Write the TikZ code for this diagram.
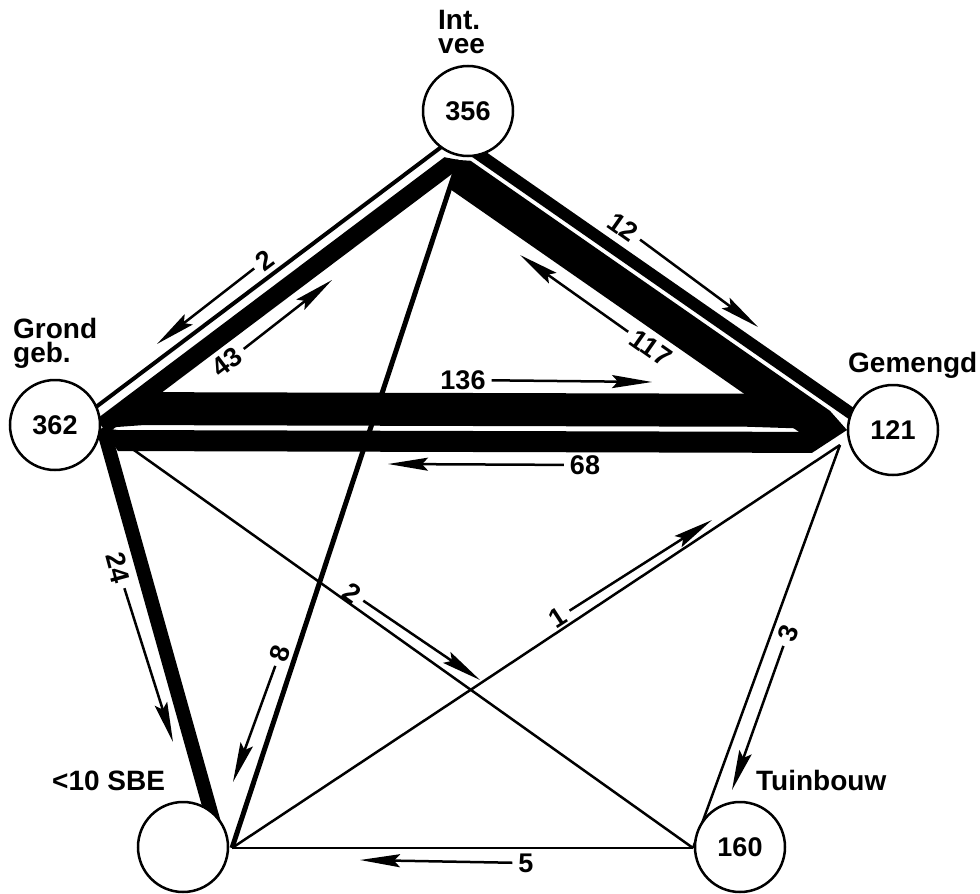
\documentclass[tikz,border=0pt]{standalone}
\usepackage{fontspec}
\setmainfont{Liberation Sans}
\usetikzlibrary{calc,arrows.meta}
\pgfdeclarelayer{back}
\pgfsetlayers{back,main}

\tikzset{
  site/.style={circle,draw,fill=white,line width=2.5pt,minimum size=90pt,inner sep=0pt,font=\fontsize{27}{27}\selectfont\bfseries},
  sitename/.style={inner sep=0pt,align=left,font=\fontsize{28}{24}\selectfont\bfseries},
  lab/.style={inner sep=3pt,font=\fontsize{27}{27}\selectfont\bfseries},
  arr/.style={-{Stealth[length=40pt,width=13pt,inset=6pt]},line width=2.5pt,shorten <=3pt},
  % tapered band: edge offsets #1,#2; taper length at start #3, at end #4
  band/.style n args={4}{to path={(\tikztostart)
    -- ($(\tikztostart)!#3!(\tikztotarget)!#1!-90:(\tikztotarget)$)
    -- ($(\tikztotarget)!#4!(\tikztostart)!#1!90:(\tikztostart)$)
    -- (\tikztotarget)
    -- ($(\tikztotarget)!#4!(\tikztostart)!#2!90:(\tikztostart)$)
    -- ($(\tikztostart)!#3!(\tikztotarget)!#2!-90:(\tikztotarget)$) -- cycle}},
  % straight line parallel to start--target, offset #1
  pair/.style={to path={($(\tikztostart)!#1!-90:(\tikztotarget)$) -- ($(\tikztotarget)!#1!90:(\tikztostart)$)}},
}

\begin{document}
\begin{tikzpicture}[x=1pt,y=1pt,yscale=-1,xscale=1]
\useasboundingbox (0,0) rectangle (980,894);

%Shape: Circle
\node[site] (vee) at (468,111) {356};
%Shape: Circle
\node[site] (grond) at (55,425) {362};
%Shape: Circle
\node[site] (gem) at (893,430) {121};
%Shape: Circle
\node[site] (sbe) at (183,847) {};
%Shape: Circle
\node[site] (tuin) at (740,847) {160};

% ports where the lines meet the circles
\coordinate (Ib) at ($(vee)+(-9,49)$);
\coordinate (Ge) at ($(grond)+(48,3)$);
\coordinate (Mw) at ($(gem)+(-46,0)$);
\coordinate (Msw) at ($(gem)+(-53,15)$);
\coordinate (Se) at ($(sbe)+(49,1)$);
\coordinate (Sx) at ($(sbe)+(38,1)$);
\coordinate (Tw) at ($(tuin)+(-47,1)$);

\begin{pgfonlayer}{back}
%Straight Lines
\fill (Ib) to[band={-11pt}{7pt}{10pt}{0pt}] (Ge);
\draw[line width=4pt] (Ib) to[pair=-21pt] (Ge);
%Straight Lines
\fill (Ib) to[band={-29pt}{6pt}{10pt}{25pt}] (Mw);
\draw[line width=12pt] (Ib) to[pair=16pt] (Mw);
%Straight Lines
\fill (Ge) to[band={3pt}{36pt}{40pt}{100pt}] (Mw);
\fill (Ge) to[band={-23pt}{-2pt}{15pt}{35pt}] (Mw);
%Straight Lines
\draw[line width=14pt] (Ge) -- (Sx);
\draw[line width=5pt] (Ib) -- (Se);
%Straight Lines
\draw[line width=2.5pt] (Ge) -- (Tw);
\draw[line width=2.5pt] (Se) -- (Msw);
\draw[line width=2.5pt] (Msw) -- (Tw);
\draw[line width=2.5pt] (Tw) -- (Se);
\end{pgfonlayer}

% Text Node
\node[sitename,anchor=north west] (tVee) at (438,10) {Int.\\vee};
% Text Node
\node[sitename,anchor=north west] (tGrond) at (13,318) {Grond\\geb.};
% Text Node
\node[sitename,anchor=base west] (tGem) at (848,372) {Gemengd};
% Text Node
\node[sitename,anchor=base west] (tSbe) at (52,790) {<10 SBE};
% Text Node
\node[sitename,anchor=base west] (tTuin) at (756,790) {Tuinbouw};

% Text Node
\node[lab,rotate=37] (n2a) at (265,260) {2};
\node[lab,rotate=37] (n43) at (227,362) {43};
\node[lab,rotate=-35] (n12) at (623,227) {12};
\node[lab,rotate=-35] (n117) at (651,348) {117};
\node[lab] (n136) at (463,380) {136};
\node[lab] (n68) at (585,465) {68};
\node[lab,rotate=-75] (n24) at (118,568) {24};
\node[lab,rotate=72] (n8) at (280,653) {8};
\node[lab,rotate=-35] (n2b) at (352,593) {2};
\node[lab,rotate=33] (n1) at (558,618) {1};
\node[lab,rotate=70] (n3) at (788,633) {3};
\node[lab] (n5) at (526,863) {5};

% arrow tips
\coordinate (t2a) at (157,344);
\coordinate (t43) at (332,280);
\coordinate (t12) at (758,327);
\coordinate (t117) at (520,255);
\coordinate (t136) at (652,382);
\coordinate (t68) at (388,464);
\coordinate (t24) at (173,742);
\coordinate (t8) at (233,782);
\coordinate (t2b) at (480,680);
\coordinate (t1) at (712,520);
\coordinate (t3) at (732,790);
\coordinate (t5) at (360,860);

%Straight Lines
\draw[arr] (n2a) -- (t2a);
\draw[arr] (n43) -- (t43);
\draw[arr] (n12) -- (t12);
\draw[arr] (n117) -- (t117);
\draw[arr] (n136) -- (t136);
\draw[arr] (n68) -- (t68);
\draw[arr] (n24) -- (t24);
\draw[arr] (n8) -- (t8);
\draw[arr] (n2b) -- (t2b);
\draw[arr] (n1) -- (t1);
\draw[arr] (n3) -- (t3);
\draw[arr] (n5) -- (t5);

\end{tikzpicture}
\end{document}
